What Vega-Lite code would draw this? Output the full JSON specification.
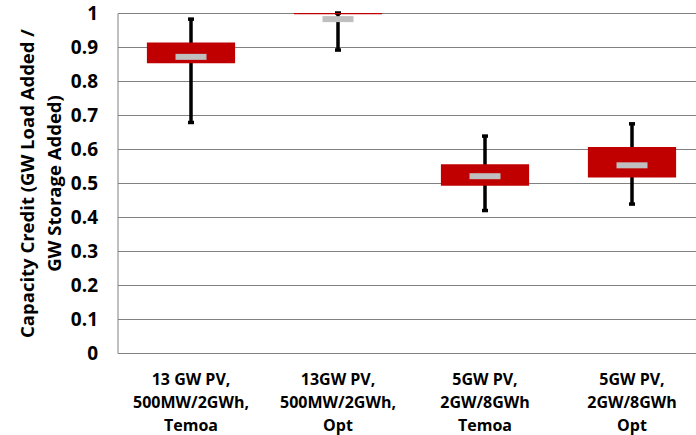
{
  "$schema": "https://vega.github.io/schema/vega-lite/v6.json",
  "width": 588,
  "height": 340,
  "autosize": {"type": "none"},
  "padding": {"left": 117.5, "top": 13, "right": 0, "bottom": 82},
  "background": "white",
  "data": {
    "values": [
      {"cat": "13 GW PV,|500MW/2GWh,|Temoa", "lo": 0.678, "q1": 0.852, "med": 0.871, "q3": 0.913, "hi": 0.982},
      {"cat": "13GW PV,|500MW/2GWh,|Opt", "lo": 0.891, "q1": 0.996, "med": 0.982, "q3": 1.0, "hi": 1.0},
      {"cat": "5GW PV,|2GW/8GWh|Temoa", "lo": 0.419, "q1": 0.492, "med": 0.52, "q3": 0.555, "hi": 0.638},
      {"cat": "5GW PV,|2GW/8GWh|Opt", "lo": 0.438, "q1": 0.516, "med": 0.552, "q3": 0.606, "hi": 0.674}
    ]
  },
  "config": {
    "view": {"stroke": null},
    "font": "Open Sans"
  },
  "encoding": {
    "x": {
      "field": "cat",
      "type": "nominal",
      "sort": null,
      "scale": {"paddingInner": 0, "paddingOuter": 0},
      "axis": {
        "title": null,
        "labelExpr": "split(datum.label, '|')",
        "labelAngle": 0,
        "labelFont": "Open Sans",
        "labelFontWeight": "bold",
        "labelFontSize": 16,
        "labelLineHeight": 23,
        "labelColor": "black",
        "labelPadding": 18,
        "labelOverlap": false,
        "labelBound": false,
        "ticks": false,
        "domain": true,
        "domainColor": "#808080",
        "domainWidth": 1,
        "grid": false
      }
    }
  },
  "layer": [
    {
      "mark": {"type": "rule", "color": "black", "strokeWidth": 3.5},
      "encoding": {
        "y": {
          "field": "lo",
          "type": "quantitative",
          "scale": {"domain": [0, 1], "nice": false},
          "axis": {
            "title": ["Capacity Credit (GW Load Added /", "GW Storage Added)"],
            "values": [0, 0.1, 0.2, 0.3, 0.4, 0.5, 0.6, 0.7, 0.8, 0.9, 1],
            "tickCount": 20,
            "labelExpr": "datum.value == 0 || datum.value == 1 ? format(datum.value, 'd') : format(datum.value, '.1f')",
            "titleFont": "Open Sans",
            "titleFontWeight": "bold",
            "titleFontSize": 18.5,
            "titleLineHeight": 27,
            "titleColor": "black",
            "titlePadding": 6,
            "labelFont": "Open Sans",
            "labelFontWeight": "bold",
            "labelFontSize": 19,
            "labelColor": "black",
            "labelPadding": 20,
            "labelOverlap": false,
            "labelFlush": false,
            "ticks": false,
            "domain": true,
            "domainColor": "#808080",
            "domainWidth": 1,
            "grid": true,
            "gridColor": "#808080",
            "gridWidth": 1
          }
        },
        "y2": {"field": "hi"}
      }
    },
    {
      "mark": {"type": "tick", "color": "black", "size": 6, "thickness": 3.5, "opacity": 1},
      "encoding": {"y": {"field": "lo", "type": "quantitative"}}
    },
    {
      "mark": {"type": "tick", "color": "black", "size": 6, "thickness": 3.5, "opacity": 1},
      "encoding": {"y": {"field": "hi", "type": "quantitative"}}
    },
    {
      "mark": {"type": "bar", "color": "#C00000", "width": {"band": 0.6}},
      "encoding": {
        "y": {"field": "q1", "type": "quantitative"},
        "y2": {"field": "q3"}
      }
    },
    {
      "mark": {"type": "tick", "color": "#BFBFBF", "size": 31, "thickness": 6, "opacity": 1},
      "encoding": {"y": {"field": "med", "type": "quantitative"}}
    }
  ]
}
